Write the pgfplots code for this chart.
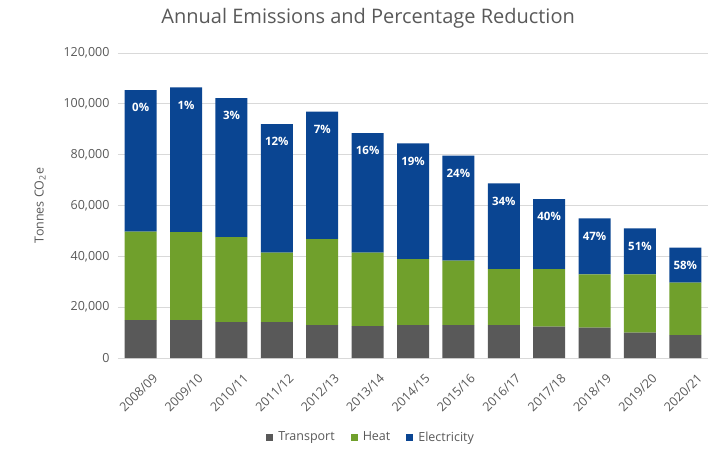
\documentclass[border=0pt]{standalone}
\usepackage{fontspec}
\setmainfont{Open Sans}
\usepackage{pgfplots}
\pgfplotsset{compat=1.18}
\usepackage{pgfplotstable}
\definecolor{cT}{HTML}{595959}
\definecolor{cH}{HTML}{70A02C}
\definecolor{cE}{HTML}{0A4592}
\definecolor{txt}{HTML}{595959}
\definecolor{grd}{HTML}{D9D9D9}
\pgfplotstableread{
idx T H E tot lab
0 14950 34740 55750 105440 0
1 14950 34620 56920 106490 1
2 14160 33440 54690 102290 3
3 14160 27270 50630 92060 12
4 12980 33840 50080 96900 7
5 12590 28840 47090 88520 16
6 12980 25970 45520 84470 19
7 12980 25300 41310 79590 24
8 12980 22030 33720 68730 34
9 12310 22700 27540 62550 40
10 11920 21010 22030 54960 47
11 9950 22980 18100 51030 51
12 9050 20570 13770 43390 58
}\data
\begin{document}
\begin{tikzpicture}
\begin{axis}[
  name=ax,
  scale only axis, width=590pt, height=305pt,
  ybar stacked, bar width=32pt,
  xmin=-0.5, xmax=12.5, ymin=0, ymax=120000,
  xtick={0,...,12},
  xticklabels={2008/09,2009/10,2010/11,2011/12,2012/13,2013/14,2014/15,2015/16,2016/17,2017/18,2018/19,2019/20,2020/21},
  ytick={0,20000,...,120000},
  scaled y ticks=false,
  /pgf/number format/fixed,
  /pgf/number format/1000 sep={,},
  /pgf/number format/assume math mode=true,
  ymajorgrids, major grid style={grd, line width=0.8pt},
  axis line style={draw=none},
  tick style={draw=none},
  ticklabel style={font=\fontsize{12.5}{14}\selectfont, text=txt},
  yticklabel style={xshift=-5pt},
  xticklabel style={rotate=45, anchor=east, xshift=1pt, yshift=-23pt},
  ylabel={Tonnes CO\textsubscript{2}e},
  ylabel style={at={(axis description cs:-0.132,0.5)}, anchor=center, font=\fontsize{12.5}{15}\selectfont, text=txt},
  title={Annual Emissions and Percentage Reduction},
  every axis title shift=0pt,
  title style={at={(axis description cs:0.424,1.115)}, anchor=center, font=\fontsize{20}{23}\selectfont, text=txt},
  legend style={at={(axis description cs:0.429,-0.259)}, anchor=center, legend columns=3, draw=none, font=\fontsize{12.5}{14}\selectfont, text=txt,
    /tikz/every even column/.append style={column sep=14pt},
    /tikz/every odd column/.append style={column sep=3pt}},
  legend image code/.code={\fill[#1] (0pt,-3.5pt) rectangle (7pt,3.5pt);},
  clip=false,
]
\addplot[fill=cT, draw=none] table[x=idx, y=T] {\data};
\addlegendentry{Transport}
\addplot[fill=cH, draw=none] table[x=idx, y=H] {\data};
\addlegendentry{Heat}
\addplot[fill=cE, draw=none] table[x=idx, y=E] {\data};
\addlegendentry{Electricity}
\draw[grd, line width=0.8pt] (axis cs:-0.5,0) -- (axis cs:12.5,0);
\end{axis}
\begin{axis}[
  at={(ax.south west)}, anchor=south west,
  scale only axis, width=590pt, height=305pt,
  xmin=-0.5, xmax=12.5, ymin=0, ymax=120000,
  hide axis, clip=false,
]
\addplot[draw=none, mark=none,
  point meta=explicit symbolic,
  nodes near coords={\pgfplotspointmeta\%},
  every node near coord/.append style={anchor=north, yshift=-10pt, text=white, font=\bfseries\fontsize{11.5}{13}\selectfont}
] table[x=idx, y=tot, meta=lab] {\data};
\end{axis}
\pgfresetboundingbox
\path[use as bounding box] (ax.south west) ++(-118pt,-103pt) rectangle ++(711pt,461pt);
\end{tikzpicture}
\end{document}
